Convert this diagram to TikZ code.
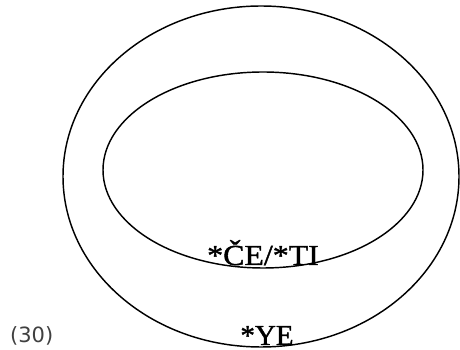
\documentclass[tikz,border=0pt]{standalone}
\usepackage{fontspec}
\setmainfont{Liberation Serif}
\newfontfamily\labfont[FakeBold=1.2]{Liberation Serif}
\newfontfamily\numfont{DejaVu Sans}
\begin{document}
\begin{tikzpicture}[x=1pt,y=1pt,line cap=round,
  ring/.style={line width=1.45pt},
  lab/.style={inner sep=0pt,anchor=base,font=\labfont\fontsize{29}{30}\selectfont}]
  \useasboundingbox (0,0) rectangle (460,350);
  \draw[ring] (261,173.5) ellipse (198 and 170.5);
  \draw[ring] (263,180) ellipse (160 and 98);
  \node[lab,xscale=1.1] (ceti) at (263,85) {*ČE/*TI};
  \node[lab] (ye) at (267,5) {*YE};
  \node[inner sep=0pt,anchor=base west,text=black!75,
    font=\numfont\fontsize{21}{22}\selectfont] (num) at (10,7) {(30)};
\end{tikzpicture}
\end{document}
